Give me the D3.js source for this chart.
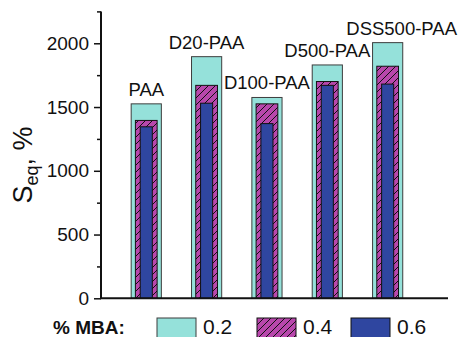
<!DOCTYPE html>
<html>
<head>
<meta charset="utf-8">
<script src="https://cdn.jsdelivr.net/npm/d3@7"></script>
<style>
  html, body { margin: 0; padding: 0; background: #fff; }
  svg { display: block; font-family: "Liberation Sans", Arial, sans-serif; }
</style>
</head>
<body>
<svg id="chart" width="463" height="337"></svg>
<script>
// Swelling degree by polymer sample and crosslinker (MBA) content
const samples = ["PAA", "D20-PAA", "D100-PAA", "D500-PAA", "DSS500-PAA"];
const mbaLevels = ["0.2", "0.4", "0.6"];
const seq02 = [1525, 1895, 1575, 1830, 2005];
const seq04 = [1395, 1670, 1525, 1700, 1820];
const seq06 = [1345, 1530, 1370, 1670, 1680];
const yMajorTicks = [0, 500, 1000, 1500, 2000];
const yMinorTicks = [250, 750, 1250, 1750, 2250];

const series = [
  { key: mbaLevels[0], values: seq02, width: 0.5,  fill: "#95e1da", stroke: "#3d3d3d" },
  { key: mbaLevels[1], values: seq04, width: 0.36, fill: "url(#hatch)", stroke: "#111" },
  { key: mbaLevels[2], values: seq06, width: 0.2,  fill: "#2f46a0", stroke: "#111" }
];

const svg = d3.select("#chart");

// diagonal hatching for the middle series
const defs = svg.append("defs");
const pat = defs.append("pattern")
  .attr("id", "hatch")
  .attr("patternUnits", "userSpaceOnUse")
  .attr("width", 7).attr("height", 7);
pat.append("rect").attr("width", 7).attr("height", 7).attr("fill", "#b847ac");
pat.append("path")
  .attr("d", "M-1,1 l2,-2 M0,7 l7,-7 M6,8 l2,-2")
  .attr("stroke", "#111").attr("stroke-width", 1);

const x = d3.scaleLinear().domain([0.25, 6]).range([101, 448]);
const y = d3.scaleLinear().domain([0, 2250]).range([298.3, 11.4]);

// bars, widest (0.2) at the back
series.forEach(s => {
  svg.append("g").selectAll("rect")
    .data(s.values)
    .join("rect")
    .attr("x", (d, i) => x(i + 1 - s.width / 2))
    .attr("width", x(s.width) - x(0))
    .attr("y", d => y(d))
    .attr("height", d => y(0) - y(d))
    .attr("fill", s.fill)
    .attr("stroke", s.stroke)
    .attr("stroke-width", 1);
});

// sample names above the tallest bar
const labelDx = { "DSS500-PAA": 14 };
svg.append("g").selectAll("text")
  .data(samples)
  .join("text")
  .attr("x", (d, i) => x(i + 1) + (labelDx[d] || 0))
  .attr("y", (d, i) => y(seq02[i]) - 8)
  .attr("text-anchor", "middle")
  .attr("font-size", 18.5)
  .attr("fill", "#111")
  .text(d => d);

// y axis with major and minor ticks
const yAxis = svg.append("g").attr("transform", "translate(101,0)")
  .call(d3.axisLeft(y).tickValues(yMajorTicks).tickSize(7).tickPadding(5).tickFormat(d3.format("d")));
yAxis.select(".domain").remove();
yAxis.selectAll("text").attr("font-size", 19).attr("fill", "#111")
  .attr("font-family", "Liberation Sans, Arial, sans-serif");
yAxis.selectAll("line").attr("stroke", "#111").attr("stroke-width", 1.5);

svg.append("g").attr("transform", "translate(101,0)")
  .call(d3.axisLeft(y).tickValues(yMinorTicks).tickSize(4).tickFormat(""))
  .call(g => g.select(".domain").remove())
  .selectAll("line").attr("stroke", "#111").attr("stroke-width", 1.5);

svg.append("line")
  .attr("x1", 101).attr("x2", 101).attr("y1", y(2250)).attr("y2", y(0))
  .attr("stroke", "#111").attr("stroke-width", 2);
svg.append("line")
  .attr("x1", 100).attr("x2", x(6)).attr("y1", y(0)).attr("y2", y(0))
  .attr("stroke", "#111").attr("stroke-width", 2);

// y axis title: S_eq, %
const yt = svg.append("text")
  .attr("transform", "translate(32,165) rotate(-90)")
  .attr("text-anchor", "middle")
  .attr("font-size", 27)
  .attr("fill", "#111");
yt.append("tspan").text("S");
yt.append("tspan").attr("font-size", 18).attr("dy", 6).text("eq");
yt.append("tspan").attr("dy", -6).text(", %");

// legend
svg.append("text")
  .attr("x", 53).attr("y", 333.5)
  .attr("font-size", 19).attr("font-weight", "bold").attr("fill", "#111")
  .text("% MBA:");

const legendX = [157, 257, 351];
const lg = svg.append("g").selectAll("g")
  .data(series)
  .join("g")
  .attr("transform", (d, i) => `translate(${legendX[i]},318)`);
lg.append("rect")
  .attr("width", 39).attr("height", 24)
  .attr("fill", d => d.fill)
  .attr("stroke", d => d.stroke).attr("stroke-width", 1);
lg.append("text")
  .attr("x", 46).attr("y", 15.5)
  .attr("font-size", 21).attr("fill", "#111")
  .text(d => d.key);
</script>
</body>
</html>
